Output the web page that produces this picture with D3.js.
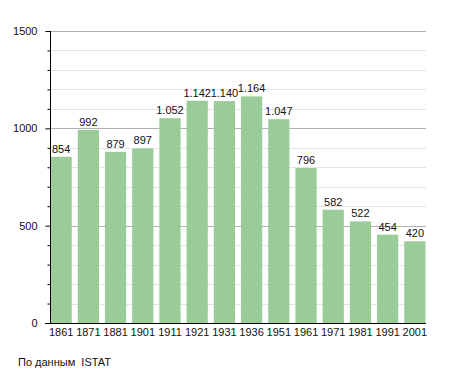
<!DOCTYPE html>
<html>
<head>
	<meta charset="utf-8">
	<script src="https://d3js.org/d3.v7.min.js"></script>
	<style>
		body { margin: 0; background: white; }
		text { font-family: "Liberation Sans", Arial, sans-serif; }
	</style>
</head>
<body>
	<script>
		// data
		var years = ["1861", "1871", "1881", "1901", "1911", "1921", "1931", "1936", "1951", "1961", "1971", "1981", "1991", "2001"];
		var population = [854, 992, 879, 897, 1052, 1142, 1140, 1164, 1047, 796, 582, 522, 454, 420];
		var yTicks = [0, 500, 1000, 1500];
		var sourceText = "По данным  ISTAT";

		var width = 455, height = 373;
		var plotLeft = 50, plotRight = 426, plotTop = 31, plotBottom = 323;

		var svg = d3.select("body").append("svg")
			.attr("width", width)
			.attr("height", height);

		var x = d3.scaleBand()
			.domain(years)
			.range([plotLeft, plotRight])
			.paddingInner(0.22)
			.paddingOuter(0.02);

		var y = d3.scaleLinear()
			.domain([0, 1500])
			.range([plotBottom, plotTop]);

		// minor gridlines every 100
		var minor = d3.range(100, 1501, 100).filter(function(d) { return d % 500 != 0; });
		svg.append("g").selectAll("line")
			.data(minor)
			.enter().append("line")
			.attr("x1", plotLeft).attr("x2", plotRight)
			.attr("y1", function(d) { return Math.round(y(d)) + 0.5; })
			.attr("y2", function(d) { return Math.round(y(d)) + 0.5; })
			.attr("stroke", "#e4e4e4");

		// major gridlines
		svg.append("g").selectAll("line")
			.data(yTicks.slice(1))
			.enter().append("line")
			.attr("x1", plotLeft).attr("x2", plotRight)
			.attr("y1", function(d) { return Math.round(y(d)) + 0.5; })
			.attr("y2", function(d) { return Math.round(y(d)) + 0.5; })
			.attr("stroke", "#b0b0b0");

		// bars
		svg.append("g").selectAll("rect")
			.data(population)
			.enter().append("rect")
			.attr("x", function(d, i) { return x(years[i]); })
			.attr("width", x.bandwidth())
			.attr("y", function(d) { return y(d); })
			.attr("height", function(d) { return y(0) - y(d); })
			.attr("fill", "#99cc99");

		// value labels
		var fmt = function(d) { return d >= 1000 ? Math.floor(d / 1000) + "." + d3.format("03d")(d % 1000) : String(d); };
		svg.append("g").selectAll("text")
			.data(population)
			.enter().append("text")
			.attr("x", function(d, i) { return x(years[i]) + x.bandwidth() / 2; })
			.attr("y", function(d) { return y(d) - 4; })
			.attr("text-anchor", "middle")
			.attr("font-size", "11px")
			.attr("fill", "#111")
			.text(fmt);

		// y axis
		var yAxis = d3.axisLeft(y)
			.tickValues(d3.range(0, 1501, 100))
			.tickSize(3)
			.tickFormat(function(d) { return d % 500 == 0 ? d : ""; })
			.tickPadding(10);
		var ga = svg.append("g")
			.attr("transform", "translate(" + (plotLeft + 0.5) + ",0)")
			.call(yAxis);
		ga.select(".domain").attr("stroke", "#000").attr("d", "M0," + plotTop + "V" + plotBottom);
		ga.selectAll(".tick line")
			.attr("stroke", "#000")
			.attr("x2", function(d) { return d % 500 == 0 ? -5 : -3; });
		ga.selectAll(".tick text")
			.attr("font-size", "11px")
			.attr("fill", "#111")
			.attr("font-family", "Liberation Sans, Arial, sans-serif");

		// x axis
		var xAxis = d3.axisBottom(x).tickSize(0).tickPadding(5);
		var gx = svg.append("g")
			.attr("transform", "translate(0," + (plotBottom + 0.5) + ")")
			.call(xAxis);
		gx.select(".domain").attr("d", "M" + (plotLeft - 5) + ",0H" + plotRight).attr("stroke", "#000");
		gx.selectAll(".tick text")
			.attr("font-size", "11px")
			.attr("fill", "#111")
			.attr("font-family", "Liberation Sans, Arial, sans-serif");

		// source
		svg.append("text")
			.attr("x", 18)
			.attr("y", 366)
			.attr("font-size", "11px")
			.attr("fill", "#111")
			.style("white-space", "pre")
			.text(sourceText);
	</script>
</body>
</html>
